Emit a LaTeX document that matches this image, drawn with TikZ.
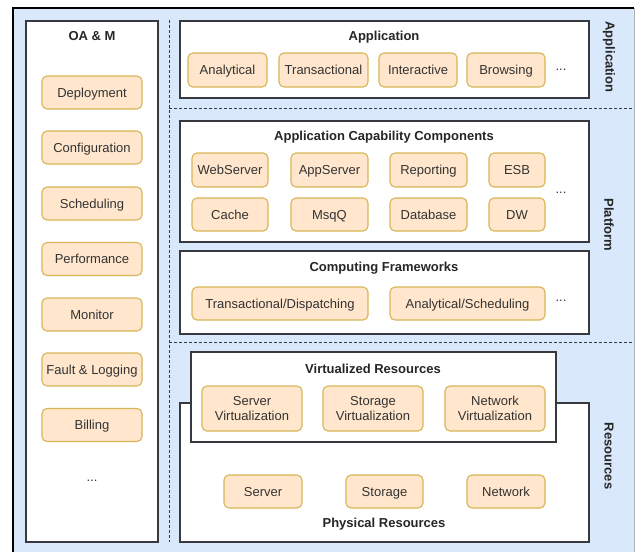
\documentclass[tikz,border=0pt]{standalone}
\usepackage{fontspec}
\setmainfont{Liberation Sans}
\definecolor{bgblue}{HTML}{DAE8FC}
\definecolor{ofill}{HTML}{FFE6CC}
\definecolor{ostroke}{HTML}{D6B656}
\definecolor{cstroke}{HTML}{36393D}
\definecolor{txt}{HTML}{333333}
\begin{document}
\begin{tikzpicture}[x=1pt,y=-1pt,
  every node/.style={inner sep=0pt,outer sep=0pt,text=txt,font=\fontsize{13}{15}\selectfont},
  ob/.style={draw=ostroke,fill=ofill,line width=1.1pt,rounded corners=5pt,align=center},
  sb/.style={ob,text height=9.3pt,text depth=0pt},
  cont/.style={draw=cstroke,fill=white,line width=1.3pt},
  ttl/.style={font=\fontsize{13}{15}\selectfont\bfseries,text=black!85,text height=9.3pt,text depth=0pt},
  side/.style={font=\fontsize{13}{15}\selectfont\bfseries,text=black!85,rotate=-90},
  sep/.style={draw=cstroke,line width=0.9pt,dash pattern=on 3pt off 2pt}]
\useasboundingbox (0,0) rectangle (636,551);
% outer background
\fill[bgblue] (13,8) rectangle (634,553);
\draw[black,line width=2pt] (13,553) -- (13,8) -- (634,8);
\draw[black!30,line width=0.8pt] (634,8) -- (634,553);
% separators
\coordinate (v1) at (169,20); \coordinate (v2) at (169,542);
\coordinate (h1a) at (169,108); \coordinate (h1b) at (634,108);
\coordinate (h2a) at (169,342); \coordinate (h2b) at (634,342);
\draw[sep] (v1) -- (v2);
\draw[sep] (h1a) -- (h1b);
\draw[sep] (h2a) -- (h2b);
% OA&M
\node[cont,minimum width=132,minimum height=521] (oam) at (92,281.5) {};
\node[ttl] (oamt) at (92,36) {OA \& M};
\foreach \n/\t/\y in {dep/Deployment/92.5,conf/Configuration/147.5,sch/Scheduling/203.5,perf/Performance/259,mon/Monitor/314.5,fault/Fault \& Logging/369.5,bill/Billing/425}
  \node[sb,minimum width=100,minimum height=33] (\n) at (92,\y) {\t};
\node (oamdots) at (92,481) {...};
% Application
\node[cont,minimum width=409,minimum height=77] (app) at (384.5,59.5) {};
\node[ttl] (appt) at (384,36) {Application};
\node[sb,minimum width=79,minimum height=34] (ana) at (227.5,70) {Analytical};
\node[sb,minimum width=89,minimum height=34] (tra) at (323.5,70) {Transactional};
\node[sb,minimum width=78,minimum height=34] (int) at (418,70) {Interactive};
\node[sb,minimum width=78,minimum height=34] (bro) at (506,70) {Browsing};
\node (appdots) at (561,70) {...};
% ACC
\node[cont,minimum width=409,minimum height=121] (acc) at (384.5,181.5) {};
\node[ttl] (acct) at (384,136) {Application Capability Components};
\node[sb,minimum width=76,minimum height=34] (web) at (230,170) {WebServer};
\node[sb,minimum width=77,minimum height=34] (aps) at (329.5,170) {AppServer};
\node[sb,minimum width=77,minimum height=34] (rep) at (428.5,170) {Reporting};
\node[sb,minimum width=56,minimum height=34] (esb) at (517,170) {ESB};
\node[sb,minimum width=76,minimum height=33] (cache) at (230,214.5) {Cache};
\node[sb,minimum width=77,minimum height=33] (msq) at (329.5,214.5) {MsqQ};
\node[sb,minimum width=77,minimum height=33] (db) at (428.5,214.5) {Database};
\node[sb,minimum width=56,minimum height=33] (dw) at (517,214.5) {DW};
\node (accdots) at (561,193) {...};
% CF
\node[cont,minimum width=409,minimum height=83] (cf) at (384.5,292.5) {};
\node[ttl] (cft) at (384,267) {Computing Frameworks};
\node[sb,minimum width=176,minimum height=33] (td) at (280,303.5) {Transactional/Dispatching};
\node[sb,minimum width=155,minimum height=33] (as) at (467.5,303.5) {Analytical/Scheduling};
\node (cfdots) at (561,301) {...};
% Physical
\node[cont,minimum width=409,minimum height=139] (phys) at (384.5,472.5) {};
\node[ttl] (physt) at (384,523) {Physical Resources};
\node[sb,minimum width=78,minimum height=33] (srv) at (263,491.5) {Server};
\node[sb,minimum width=77,minimum height=33] (sto) at (384.5,491.5) {Storage};
\node[sb,minimum width=78,minimum height=33] (net) at (506,491.5) {Network};
% Virtualized
\node[cont,minimum width=365,minimum height=90] (virt) at (373.5,397) {};
\node[ttl] (virtt) at (373,369) {Virtualized Resources};
\node[ob,minimum width=100,minimum height=45] (sv) at (252,408.5) {Server\\Virtualization};
\node[ob,minimum width=100,minimum height=45] (stv) at (373,408.5) {Storage\\Virtualization};
\node[ob,minimum width=100,minimum height=45] (nv) at (495,408.5) {Network\\Virtualization};
% side labels
\node[side] (sapp) at (609,57) {Application};
\node[side] (splat) at (609,225) {Platform};
\node[side] (sres) at (609,456) {Resources};
\end{tikzpicture}
\end{document}
